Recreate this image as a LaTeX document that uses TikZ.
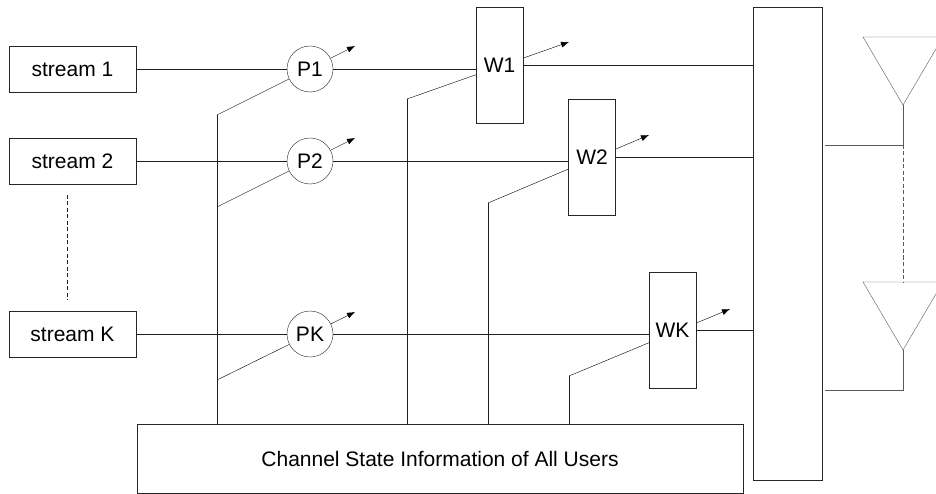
\documentclass[tikz,border=0pt]{standalone}
\usepackage{fontspec}
\setmainfont{Liberation Sans}
\usetikzlibrary{arrows.meta,backgrounds}
\begin{document}
\begin{tikzpicture}[x=1pt,y=-1pt,line width=0.9pt,color=black!88,
  txt/.style={font=\fontsize{21}{24}\selectfont,text=black},
  box/.style={draw=black!85,fill=white,inner sep=0pt,txt},
  streambox/.style={box,minimum width=127pt,minimum height=46pt},
  pcirc/.style={box,circle,minimum size=46pt},
  wbox/.style={box,minimum width=47pt,minimum height=116pt},
  tip/.style={-{Latex[length=8pt,width=6pt]}},
  ant/.style={draw=black!65},
  dsh/.style={dash pattern=on 4pt off 2.5pt}]
\useasboundingbox (0,0) rectangle (936,494);
\clip (0,0) rectangle (936,494);

% coordinates of control lines
\coordinate (c1) at (217,115); \coordinate (t1) at (355,46);
\coordinate (c2) at (217,207); \coordinate (t2) at (355,138);
\coordinate (cK) at (217,380); \coordinate (tK) at (355,312);
\coordinate (d1) at (407,99);  \coordinate (u1) at (569,42);
\coordinate (d2) at (488,203); \coordinate (u2) at (649,135);
\coordinate (dK) at (569,376); \coordinate (uK) at (730,309);

\begin{pgfonlayer}{background}
  \fill[white] (0,0) rectangle (936,494);
  \draw[tip] (c1) -- (t1);
  \draw[tip] (c2) -- (t2);
  \draw[tip] (cK) -- (tK);
  \draw[tip] (d1) -- (u1);
  \draw[tip] (d2) -- (u2);
  \draw[tip] (dK) -- (uK);
\end{pgfonlayer}

% streams
\node[streambox] (s1) at (72.5,69) {stream 1};
\node[streambox] (s2) at (72.5,161) {stream 2};
\node[streambox] (sK) at (72.5,334) {stream K};

% power nodes
\node[pcirc] (p1) at (310,69) {P1};
\node[pcirc] (p2) at (310,161) {P2};
\node[pcirc] (pK) at (310,334) {PK};

% precoders
\node[wbox] (w1) at (499.5,65) {W1};
\node[wbox] (w2) at (592,157) {W2};
\node[wbox] (wK) at (672.5,330.5) {WK};

% big block and CSI
\node[box,minimum width=69pt,minimum height=473pt] (big) at (787.5,243.5) {};
\node[box,minimum width=606pt,minimum height=69pt] (csi) at (440,458.5) {Channel State Information of All Users};

% signal lines
\draw (s1.east) -- (p1.west);
\draw (s2.east) -- (p2.west);
\draw (sK.east) -- (pK.west);
\draw (p1.east) -- (p1.east -| w1.west);
\draw (p2.east) -- (p2.east -| w2.west);
\draw (pK.east) -- (pK.east -| wK.west);
\draw (w1.east) -- (w1.east -| big.west);
\draw (w2.east) -- (w2.east -| big.west);
\draw (wK.east) -- (wK.east -| big.west);

% CSI feeds
\draw (c1) -- (c1 |- csi.north);
\draw (d1) -- (d1 |- csi.north);
\draw (d2) -- (d2 |- csi.north);
\draw (dK) -- (dK |- csi.north);

% dotted stream continuation
\coordinate (e1) at (67,195); \coordinate (e2) at (67,300);
\draw[dsh,line width=0.7pt] (e1) -- (e2);

% antennas
\coordinate (a1) at (903,105); \coordinate (f1) at (903,145); \coordinate (g1) at (825,145);
\coordinate (a2) at (903,350); \coordinate (f2) at (903,390); \coordinate (g2) at (825,390);
\coordinate (h2) at (903,282);
\draw[ant] (863,37) -- (943,37) -- (a1) -- cycle;
\draw[ant] (863,282) -- (943,282) -- (a2) -- cycle;
\draw[ant] (a1) -- (f1) -- (g1);
\draw[ant] (a2) -- (f2) -- (g2);
\draw[ant,dsh,line width=0.7pt] (f1) -- (h2);
\end{tikzpicture}
\end{document}
